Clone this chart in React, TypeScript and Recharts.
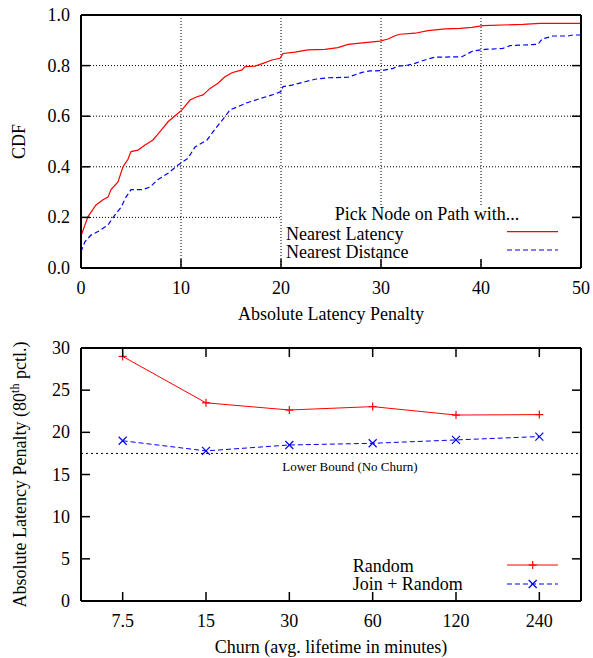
import React from 'react';
import { LineChart, Line, XAxis, YAxis, CartesianGrid, ReferenceLine, Legend } from 'recharts';

const FONT = '"Liberation Serif", "Times New Roman", Times, serif';

// ---------- Top chart: CDF of absolute latency penalty ----------
const cdfXTicks = [0, 10, 20, 30, 40, 50];
const cdfYTicks = [0, 0.2, 0.4, 0.6, 0.8, 1.0];

const latencyPenalty = [0, 0.03, 0.7, 1.5, 2.2, 2.7, 3.0, 3.7, 4.2, 4.7, 5.0, 5.7, 6.4, 7.2, 7.9, 8.7, 9.5, 10.1, 10.9, 11.6, 12.2, 12.9, 13.7, 14.4, 15.1, 16.1, 16.4, 17.4, 18.2, 19.1, 19.9, 20.2, 21.4, 22.7, 24.4, 25.7, 26.7, 28.4, 29.9, 30.7, 31.4, 31.9, 33.4, 34.7, 36.4, 37.9, 39.1, 40.2, 44.2, 45.9, 50];
const latencyCdf = [0, 0.13, 0.203, 0.249, 0.27, 0.28, 0.31, 0.34, 0.40, 0.43, 0.46, 0.466, 0.486, 0.506, 0.539, 0.578, 0.605, 0.625, 0.664, 0.677, 0.684, 0.71, 0.73, 0.756, 0.772, 0.783, 0.796, 0.798, 0.809, 0.822, 0.829, 0.848, 0.853, 0.862, 0.864, 0.871, 0.884, 0.891, 0.897, 0.905, 0.918, 0.924, 0.928, 0.938, 0.945, 0.947, 0.951, 0.958, 0.963, 0.967, 0.967];

const distancePenalty = [0, 0.05, 0.4, 1.0, 1.7, 2.7, 3.4, 4.0, 4.5, 5.0, 6.2, 6.9, 7.7, 8.7, 9.7, 10.7, 11.4, 12.6, 13.6, 14.4, 14.9, 15.7, 16.6, 17.7, 19.1, 20.0, 20.2, 21.1, 22.4, 23.4, 24.7, 26.7, 28.1, 28.9, 30.1, 31.2, 31.7, 32.7, 33.4, 34.6, 35.4, 38.1, 39.2, 40.4, 42.2, 42.9, 45.7, 46.1, 47.2, 48.7, 49.2, 50];
const distanceCdf = [0, 0.07, 0.104, 0.13, 0.144, 0.17, 0.21, 0.24, 0.28, 0.31, 0.31, 0.32, 0.35, 0.374, 0.407, 0.434, 0.478, 0.506, 0.559, 0.598, 0.625, 0.638, 0.653, 0.667, 0.684, 0.697, 0.717, 0.723, 0.736, 0.746, 0.752, 0.754, 0.773, 0.779, 0.78, 0.789, 0.798, 0.802, 0.809, 0.825, 0.833, 0.835, 0.858, 0.864, 0.868, 0.879, 0.884, 0.905, 0.917, 0.917, 0.921, 0.921];

// ---------- Bottom chart: penalty vs churn ----------
const churnLabels = ['7.5', '15', '30', '60', '120', '240'];
const randomPenalty = [29.0, 23.5, 22.65, 23.05, 22.05, 22.1];
const joinRandomPenalty = [19.0, 17.8, 18.5, 18.7, 19.1, 19.5];
const lowerBound = 17.5;
const penaltyTicks = [0, 5, 10, 15, 20, 25, 30];

const latencySeries = latencyPenalty.map((x, i) => ({ x, y: latencyCdf[i] }));
const distanceSeries = distancePenalty.map((x, i) => ({ x, y: distanceCdf[i] }));
const churnData = churnLabels.map((churn, i) => ({ churn, random: randomPenalty[i], joinRandom: joinRandomPenalty[i] }));

const RED = '#ff0000';
const BLUE = '#0000ff';
const TICK = 9;
const TICK_W = 1.5;
const FRAME = { stroke: '#000', strokeWidth: 2 };

const txt = { fontFamily: FONT, fontSize: 18, fill: '#000' } as const;

const leftTick = (fmt: (v: any) => string) => (p: any) => (
  <g>
    <line x1={p.x} y1={p.y} x2={p.x + TICK} y2={p.y} stroke="#000" strokeWidth={TICK_W} />
    <text x={p.x - 11} y={p.y + 6} textAnchor="end" {...txt}>{fmt(p.payload.value)}</text>
  </g>
);
const rightTick = (p: any) => (
  <line x1={p.x} y1={p.y} x2={p.x - TICK} y2={p.y} stroke="#000" strokeWidth={TICK_W} />
);
const bottomTick = (p: any) => (
  <g>
    <line x1={p.x} y1={p.y} x2={p.x} y2={p.y - TICK} stroke="#000" strokeWidth={TICK_W} />
    <text x={p.x} y={p.y + 25.5} textAnchor="middle" {...txt}>{String(p.payload.value)}</text>
  </g>
);
const topTick = (p: any) => (
  <line x1={p.x} y1={p.y} x2={p.x} y2={p.y + TICK} stroke="#000" strokeWidth={TICK_W} />
);

const xTitle = (title: string) => (props: any) => {
  const vb = props.viewBox || {};
  return (
    <text x={vb.x + vb.width / 2} y={vb.y + 52} textAnchor="middle" {...txt}>{title}</text>
  );
};

const PlusMark = ({ cx, cy, color }: any) => (
  <g>
    <line x1={cx - 4} y1={cy} x2={cx + 4} y2={cy} stroke={color} strokeWidth={1.2} />
    <line x1={cx} y1={cy - 4} x2={cx} y2={cy + 4} stroke={color} strokeWidth={1.2} />
  </g>
);
const CrossMark = ({ cx, cy, color }: any) => (
  <g>
    <line x1={cx - 4} y1={cy - 4} x2={cx + 4} y2={cy + 4} stroke={color} strokeWidth={1.2} />
    <line x1={cx - 4} y1={cy + 4} x2={cx + 4} y2={cy - 4} stroke={color} strokeWidth={1.2} />
  </g>
);

const TopLegend = () => (
  <svg width={289} height={63} style={{ overflow: 'visible', display: 'block' }}>
    <rect x={0} y={0} width={289} height={54} fill="#fff" />
    <text x={145} y={14.5} textAnchor="middle" {...txt}>Pick Node on Path with...</text>
    <text x={4} y={34.5} {...txt}>Nearest Latency</text>
    <line x1={225} y1={26.7} x2={276} y2={26.7} stroke={RED} strokeWidth={1.2} />
    <text x={4} y={53} {...txt}>Nearest Distance</text>
    <line x1={225} y1={45} x2={276} y2={45} stroke={BLUE} strokeWidth={1.2} strokeDasharray="5 3" />
  </svg>
);

const BottomLegend = () => (
  <svg width={215} height={50} style={{ overflow: 'visible', display: 'block' }}>
    <text x={2.7} y={21.7} {...txt}>Random</text>
    <line x1={157} y1={15} x2={208} y2={15} stroke={RED} strokeWidth={1} />
    <PlusMark cx={182.7} cy={15} color={RED} />
    <text x={2.7} y={40} {...txt}>Join + Random</text>
    <line x1={157} y1={34} x2={208} y2={34} stroke={BLUE} strokeWidth={1} strokeDasharray="5 3" />
    <CrossMark cx={182.7} cy={34} color={BLUE} />
  </svg>
);

const CdfChart = () => (
  <LineChart width={593} height={330} margin={{ top: 10, right: 2, bottom: 22, left: 21 }}>
    <CartesianGrid stroke="#000" strokeWidth={1} strokeDasharray="1 2" />
    <XAxis type="number" dataKey="x" domain={[0, 50]} ticks={cdfXTicks} allowDataOverflow
      height={40} tickSize={0} tickMargin={0} tick={bottomTick} axisLine={FRAME} interval={0}
      label={xTitle('Absolute Latency Penalty')} />
    <XAxis xAxisId="t" orientation="top" type="number" domain={[0, 50]} ticks={cdfXTicks} allowDataOverflow
      height={5} tickSize={0} tickMargin={0} tick={topTick} axisLine={FRAME} interval={0} />
    <YAxis type="number" domain={[0, 1]} ticks={cdfYTicks} allowDataOverflow width={60}
      tickSize={0} tickMargin={0} tick={leftTick((v) => Number(v).toFixed(1))} axisLine={FRAME} interval={0}
      label={(props: any) => {
        const vb = props.viewBox || {};
        const cx = vb.x + 4;
        const cy = vb.y + vb.height / 2;
        return <text x={cx} y={cy} transform={`rotate(-90, ${cx}, ${cy})`} textAnchor="middle" {...txt}>CDF</text>;
      }} />
    <YAxis yAxisId="r" orientation="right" type="number" domain={[0, 1]} ticks={cdfYTicks} allowDataOverflow width={10}
      tickSize={0} tickMargin={0} tick={rightTick} axisLine={FRAME} interval={0} />
    <Line data={latencySeries} dataKey="y" type="linear" stroke={RED} strokeWidth={1.2} dot={false} isAnimationActive={false} />
    <Line data={distanceSeries} dataKey="y" type="linear" stroke={BLUE} strokeWidth={1.2} strokeDasharray="5 3" dot={false} isAnimationActive={false} />
    <Legend layout="horizontal" verticalAlign="middle" align="center" content={() => <TopLegend />}
      wrapperStyle={{ left: 282, top: 205, width: 289, height: 54 }} />
  </LineChart>
);

const ChurnChart = () => (
  <LineChart width={593} height={328} data={churnData} margin={{ top: 13, right: 2, bottom: 17, left: 21 }}>
    <XAxis dataKey="churn" scale="band" height={40} tickSize={0} tickMargin={0} tick={bottomTick} axisLine={FRAME} interval={0}
      label={xTitle('Churn (avg. lifetime in minutes)')} />
    <XAxis xAxisId="t" dataKey="churn" scale="band" orientation="top" height={5} tickSize={0} tickMargin={0} tick={topTick}
      axisLine={FRAME} interval={0} />
    <YAxis type="number" domain={[0, 30]} ticks={penaltyTicks} allowDataOverflow width={60}
      tickSize={0} tickMargin={0} tick={leftTick((v) => String(v))} axisLine={FRAME} interval={0}
      label={(props: any) => {
        const vb = props.viewBox || {};
        const cx = vb.x + 5;
        const cy = vb.y + vb.height / 2;
        return (
          <text x={cx} y={cy} transform={`rotate(-90, ${cx}, ${cy})`} textAnchor="middle" {...txt}>
            Absolute Latency Penalty (80<tspan fontSize={12} dy={-7}>th</tspan><tspan dy={7}> pctl.)</tspan>
          </text>
        );
      }} />
    <YAxis yAxisId="r" orientation="right" type="number" domain={[0, 30]} ticks={penaltyTicks} allowDataOverflow width={10}
      tickSize={0} tickMargin={0} tick={rightTick} axisLine={FRAME} interval={0} />
    <ReferenceLine y={lowerBound} stroke="#000" strokeWidth={1} strokeDasharray="2 3"
      label={(props: any) => {
        const vb = props.viewBox || {};
        return <text x={vb.x + 269} y={vb.y + 18} textAnchor="middle" fontFamily={FONT} fontSize={13} fill="#000">Lower Bound (No Churn)</text>;
      }} />
    <Line dataKey="random" type="linear" stroke={RED} strokeWidth={1} isAnimationActive={false}
      dot={(p: any) => <PlusMark key={`r${p.index}`} cx={p.cx} cy={p.cy} color={RED} />} />
    <Line dataKey="joinRandom" type="linear" stroke={BLUE} strokeWidth={1} strokeDasharray="5 3" isAnimationActive={false}
      dot={(p: any) => <CrossMark key={`j${p.index}`} cx={p.cx} cy={p.cy} color={BLUE} />} />
    <Legend layout="horizontal" verticalAlign="middle" align="center" content={() => <BottomLegend />}
      wrapperStyle={{ left: 350, top: 220, width: 215, height: 50 }} />
  </LineChart>
);

export default function App() {
  return (
    <div style={{ position: 'absolute', left: 0, top: 0, width: 593, height: 658, background: '#fff' }}>
      <div style={{ position: 'absolute', left: 0, top: 0 }}>
        <CdfChart />
      </div>
      <div style={{ position: 'absolute', left: 0, top: 330 }}>
        <ChurnChart />
      </div>
    </div>
  );
}
